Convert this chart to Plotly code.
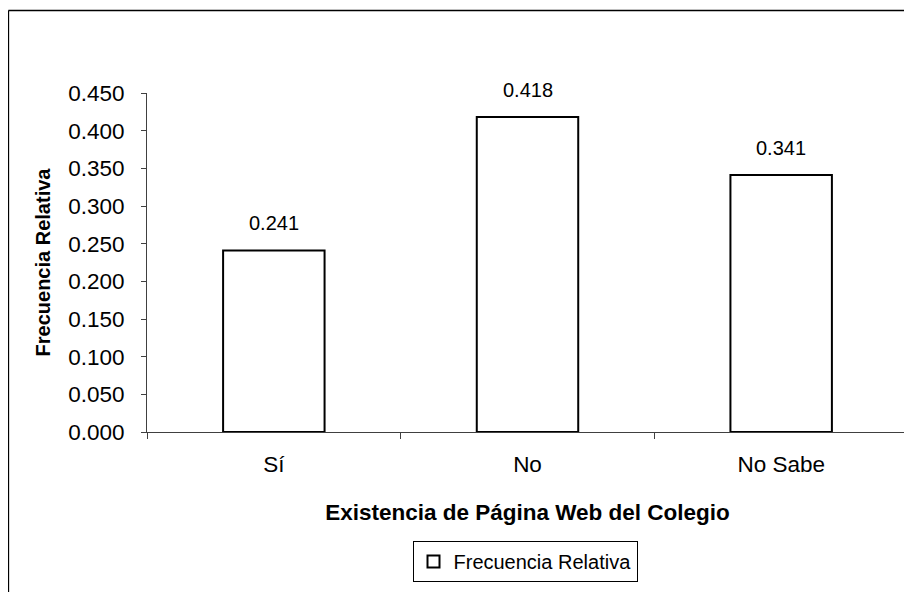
import plotly.graph_objects as go

categories = ["Sí", "No", "No Sabe"]
values = [0.241, 0.418, 0.341]
value_labels = ["0.241", "0.418", "0.341"]
series_name = "Frecuencia Relativa"
y_ticks = [0.0, 0.05, 0.1, 0.15, 0.2, 0.25, 0.3, 0.35, 0.4, 0.45]

FONT = "Liberation Sans, Arial, sans-serif"

# figure coordinates (page has an 8px body margin)
W, H = 904, 584
L, R, T, B = 139, 4, 85, 160
pw, ph = W - L - R, H - T - B

def px_x(px):
    return (px - L) / pw

def px_y(py):
    return (H - B - py) / ph

fig = go.Figure()
fig.add_trace(go.Bar(
    x=categories, y=values, name=series_name,
    marker=dict(color="white", line=dict(color="black", width=2)),
    showlegend=True,
))

for c, v, t in zip(categories, values, value_labels):
    fig.add_annotation(x=c, y=v, text=t, showarrow=False, xref="x", yref="y",
                       yanchor="bottom", yshift=14,
                       font=dict(family=FONT, size=20, color="black"))

fig.update_layout(
    width=W, height=H,
    margin=dict(l=L, r=R, t=T, b=B, autoexpand=False),
    paper_bgcolor="white", plot_bgcolor="white",
    bargap=0.6,
    font=dict(family=FONT, size=20, color="black"),
    xaxis=dict(
        type="category", tickson="boundaries", ticks="outside", ticklen=6,
        tickcolor="#404040", showline=True, linecolor="#404040", linewidth=1,
        showgrid=False, zeroline=False, ticklabelstandoff=12,
        tickfont=dict(family=FONT, size=22.5, color="black"),
        title=dict(text="<b>Existencia de Página Web del Colegio</b>",
                   font=dict(family=FONT, size=22.5, color="black"), standoff=28),
    ),
    yaxis=dict(
        range=[0, 0.45], tickvals=y_ticks, tickformat=".3f",
        ticks="outside", ticklen=5, tickcolor="#404040",
        showline=True, linecolor="#404040", linewidth=1,
        showgrid=False, zeroline=False, ticklabelstandoff=12,
        tickfont=dict(family=FONT, size=22.5, color="black"),
        title=dict(text="<b>Frecuencia Relativa</b>",
                   font=dict(family=FONT, size=20, color="black"), standoff=12),
    ),
    legend=dict(
        orientation="h", x=px_x(517), xanchor="center", y=px_y(533), yanchor="top",
        bordercolor="black", borderwidth=1, bgcolor="white",
        font=dict(family=FONT, size=20, color="black"),
        itemwidth=30,
    ),
    shapes=[
        dict(type="line", xref="paper", yref="paper", x0=px_x(0.4), x1=px_x(0.4),
             y0=px_y(2.5), y1=px_y(600), line=dict(color="black", width=1.5)),
        dict(type="line", xref="paper", yref="paper", x0=px_x(0.4), x1=px_x(920),
             y0=px_y(2.5), y1=px_y(2.5), line=dict(color="black", width=1.5)),
    ],
)

fig.write_html("out.html")
